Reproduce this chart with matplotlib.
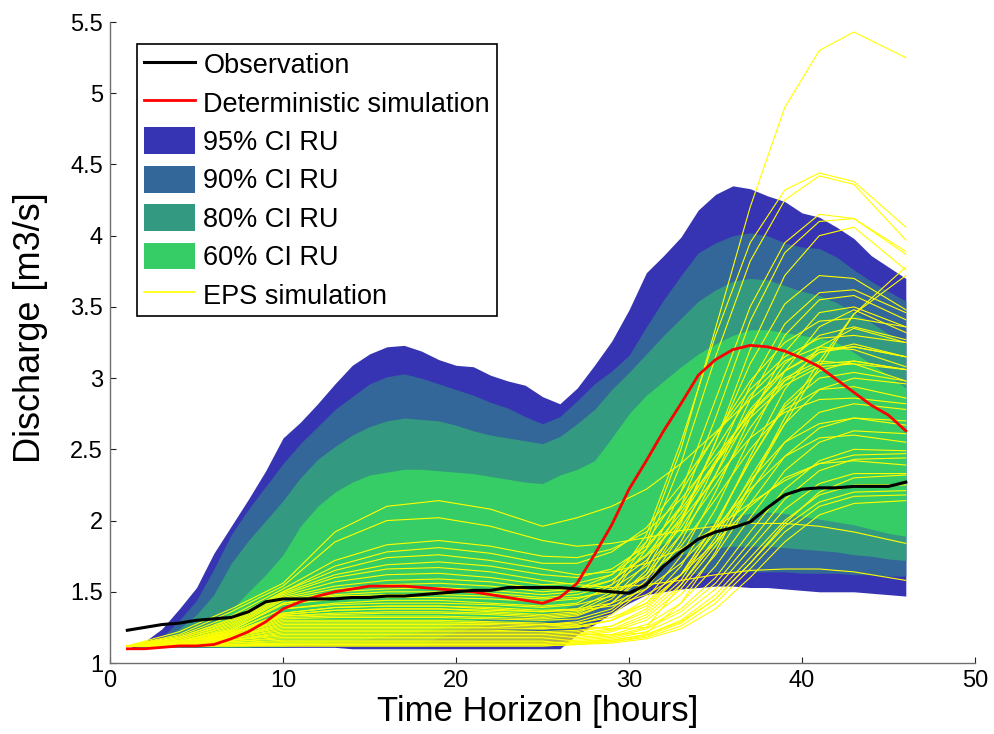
import matplotlib.pyplot as plt
import numpy as np
from matplotlib.lines import Line2D
from matplotlib.patches import Patch

plt.rcParams["font.family"] = ["Liberation Sans", "DejaVu Sans"]

# hourly lead times
hours = np.arange(1, 47)

observation = [1.23, 1.25, 1.27, 1.28, 1.30, 1.31, 1.32, 1.36, 1.43, 1.45,
               1.45, 1.45, 1.45, 1.46, 1.46, 1.47, 1.47, 1.48, 1.49, 1.50,
               1.51, 1.51, 1.53, 1.53, 1.53, 1.53, 1.52, 1.51, 1.50, 1.49,
               1.55, 1.68, 1.78, 1.87, 1.92, 1.95, 1.99, 2.09, 2.18, 2.22,
               2.23, 2.23, 2.24, 2.24, 2.24, 2.27]

deterministic = [1.10, 1.10, 1.11, 1.12, 1.12, 1.13, 1.17, 1.22, 1.29, 1.38,
                 1.43, 1.47, 1.50, 1.52, 1.54, 1.54, 1.54, 1.53, 1.52, 1.51,
                 1.50, 1.48, 1.46, 1.44, 1.42, 1.46, 1.56, 1.76, 1.97, 2.22,
                 2.42, 2.63, 2.82, 3.02, 3.13, 3.20, 3.23, 3.22, 3.19, 3.14,
                 3.08, 2.99, 2.90, 2.81, 2.74, 2.63]

# confidence intervals of the residual uncertainty
ci95_hi = [1.10, 1.15, 1.24, 1.38, 1.53, 1.77, 1.96, 2.15, 2.35, 2.58,
           2.69, 2.82, 2.96, 3.09, 3.17, 3.22, 3.23, 3.19, 3.13, 3.09,
           3.08, 3.02, 2.98, 2.95, 2.87, 2.82, 2.93, 3.09, 3.26, 3.48,
           3.74, 3.86, 3.99, 4.18, 4.29, 4.35, 4.33, 4.28, 4.24, 4.16,
           4.13, 4.06, 3.98, 3.86, 3.78, 3.70]
ci95_lo = [1.10, 1.11, 1.11, 1.11, 1.11, 1.11, 1.11, 1.11, 1.11, 1.11,
           1.11, 1.11, 1.11, 1.10, 1.10, 1.10, 1.10, 1.10, 1.10, 1.10,
           1.10, 1.10, 1.10, 1.10, 1.10, 1.10, 1.20, 1.27, 1.35, 1.42,
           1.48, 1.50, 1.52, 1.53, 1.54, 1.54, 1.53, 1.53, 1.52, 1.51,
           1.50, 1.50, 1.50, 1.49, 1.48, 1.47]

ci90_hi = [1.10, 1.13, 1.18, 1.30, 1.44, 1.66, 1.90, 2.08, 2.24, 2.40,
           2.54, 2.66, 2.78, 2.87, 2.96, 3.01, 3.03, 3.00, 2.96, 2.92,
           2.88, 2.83, 2.79, 2.73, 2.68, 2.73, 2.84, 2.96, 3.05, 3.16,
           3.36, 3.55, 3.72, 3.88, 3.95, 4.00, 4.02, 4.00, 3.95, 3.92,
           3.91, 3.85, 3.76, 3.68, 3.61, 3.54]
ci90_lo = [1.10, 1.11, 1.11, 1.11, 1.11, 1.11, 1.11, 1.11, 1.11, 1.11,
           1.12, 1.12, 1.12, 1.12, 1.12, 1.12, 1.12, 1.12, 1.14, 1.14,
           1.14, 1.14, 1.14, 1.14, 1.16, 1.18, 1.23, 1.30, 1.38, 1.46,
           1.53, 1.58, 1.61, 1.63, 1.64, 1.64, 1.64, 1.64, 1.64, 1.63,
           1.63, 1.63, 1.62, 1.62, 1.61, 1.61]

ci80_hi = [1.10, 1.12, 1.17, 1.24, 1.34, 1.48, 1.70, 1.86, 2.00, 2.14,
           2.30, 2.43, 2.52, 2.60, 2.66, 2.70, 2.72, 2.71, 2.70, 2.67,
           2.63, 2.60, 2.58, 2.56, 2.54, 2.59, 2.68, 2.78, 2.92, 3.04,
           3.17, 3.30, 3.42, 3.54, 3.62, 3.68, 3.70, 3.69, 3.65, 3.61,
           3.58, 3.53, 3.46, 3.39, 3.31, 3.24]
ci80_lo = [1.10, 1.11, 1.11, 1.11, 1.11, 1.11, 1.11, 1.11, 1.13, 1.13,
           1.13, 1.13, 1.13, 1.13, 1.13, 1.13, 1.13, 1.13, 1.18, 1.22,
           1.25, 1.27, 1.28, 1.28, 1.29, 1.30, 1.34, 1.40, 1.47, 1.55,
           1.62, 1.70, 1.76, 1.79, 1.81, 1.82, 1.82, 1.82, 1.81, 1.80,
           1.79, 1.78, 1.76, 1.75, 1.73, 1.72]

ci60_hi = [1.10, 1.11, 1.13, 1.16, 1.20, 1.28, 1.37, 1.50, 1.62, 1.76,
           1.96, 2.10, 2.20, 2.27, 2.32, 2.34, 2.36, 2.36, 2.35, 2.34,
           2.33, 2.31, 2.29, 2.27, 2.26, 2.32, 2.36, 2.42, 2.58, 2.75,
           2.88, 2.98, 3.08, 3.17, 3.24, 3.30, 3.34, 3.34, 3.32, 3.30,
           3.28, 3.25, 3.18, 3.10, 3.02, 2.93]
ci60_lo = [1.10, 1.11, 1.11, 1.12, 1.12, 1.12, 1.12, 1.12, 1.12, 1.12,
           1.13, 1.14, 1.15, 1.16, 1.17, 1.19, 1.20, 1.22, 1.24, 1.27,
           1.30, 1.32, 1.33, 1.34, 1.35, 1.37, 1.42, 1.50, 1.58, 1.67,
           1.76, 1.84, 1.90, 1.95, 1.99, 2.03, 2.05, 2.06, 2.05, 2.03,
           2.01, 1.99, 1.97, 1.94, 1.91, 1.89]

# EPS members, sampled at these lead times
eps_hours = [1, 4, 7, 10, 13, 16, 19, 22, 25, 27, 29, 31, 33, 35, 37, 39, 41, 43, 46]
eps_members = [
    [1.12, 1.22, 1.38, 1.56, 1.92, 2.10, 2.14, 2.08, 1.96, 2.02, 2.10, 2.22, 2.40, 2.62, 2.85, 3.05, 3.18, 3.22, 3.15],
    [1.12, 1.20, 1.36, 1.54, 1.85, 2.00, 2.02, 1.96, 1.86, 1.82, 1.84, 1.88, 1.93, 1.96, 1.98, 1.98, 1.96, 1.92, 1.84],
    [1.12, 1.19, 1.33, 1.52, 1.72, 1.83, 1.86, 1.82, 1.75, 1.74, 1.80, 1.92, 2.15, 2.45, 2.75, 2.98, 3.10, 3.12, 3.06],
    [1.12, 1.18, 1.31, 1.50, 1.68, 1.78, 1.81, 1.77, 1.70, 1.70, 1.78, 1.95, 2.25, 2.60, 2.92, 3.15, 3.28, 3.30, 3.25],
    [1.12, 1.18, 1.30, 1.50, 1.65, 1.74, 1.76, 1.72, 1.66, 1.62, 1.64, 1.70, 1.80, 1.95, 2.12, 2.28, 2.40, 2.46, 2.47],
    [1.12, 1.17, 1.29, 1.49, 1.62, 1.69, 1.71, 1.68, 1.62, 1.60, 1.66, 1.82, 2.08, 2.40, 2.72, 2.95, 3.08, 3.10, 3.06],
    [1.12, 1.17, 1.28, 1.48, 1.60, 1.66, 1.67, 1.64, 1.58, 1.55, 1.53, 1.55, 1.58, 1.62, 1.65, 1.66, 1.66, 1.64, 1.58],
    [1.12, 1.16, 1.27, 1.47, 1.57, 1.62, 1.63, 1.60, 1.55, 1.56, 1.62, 1.80, 2.10, 2.50, 2.88, 3.12, 3.22, 3.20, 3.08],
    [1.12, 1.16, 1.26, 1.46, 1.54, 1.58, 1.59, 1.57, 1.52, 1.52, 1.58, 1.75, 2.00, 2.30, 2.58, 2.76, 2.85, 2.86, 2.82],
    [1.12, 1.15, 1.25, 1.45, 1.52, 1.55, 1.56, 1.54, 1.50, 1.52, 1.62, 1.85, 2.20, 2.60, 2.98, 3.25, 3.40, 3.42, 3.36],
    [1.12, 1.15, 1.24, 1.44, 1.50, 1.52, 1.53, 1.51, 1.48, 1.50, 1.58, 1.76, 2.05, 2.42, 2.76, 3.00, 3.12, 3.10, 2.98],
    [1.12, 1.15, 1.23, 1.42, 1.48, 1.50, 1.50, 1.49, 1.46, 1.48, 1.55, 1.72, 2.02, 2.40, 2.78, 3.05, 3.20, 3.22, 3.15],
    [1.12, 1.14, 1.21, 1.35, 1.39, 1.40, 1.40, 1.38, 1.36, 1.38, 1.50, 1.85, 2.50, 3.35, 4.20, 4.90, 5.30, 5.43, 5.25],
    [1.12, 1.14, 1.22, 1.38, 1.42, 1.44, 1.44, 1.42, 1.40, 1.42, 1.55, 1.90, 2.55, 3.30, 3.95, 4.32, 4.44, 4.38, 4.06],
    [1.12, 1.14, 1.21, 1.34, 1.37, 1.38, 1.38, 1.36, 1.34, 1.36, 1.48, 1.80, 2.40, 3.15, 3.82, 4.25, 4.42, 4.36, 3.97],
    [1.12, 1.14, 1.20, 1.33, 1.35, 1.36, 1.36, 1.35, 1.33, 1.35, 1.45, 1.70, 2.20, 2.85, 3.50, 3.95, 4.15, 4.12, 3.89],
    [1.12, 1.13, 1.20, 1.32, 1.33, 1.33, 1.33, 1.32, 1.31, 1.33, 1.42, 1.65, 2.10, 2.72, 3.40, 3.88, 4.10, 4.12, 3.87],
    [1.12, 1.13, 1.19, 1.30, 1.30, 1.30, 1.30, 1.29, 1.28, 1.26, 1.24, 1.25, 1.55, 1.85, 2.25, 2.68, 3.08, 3.45, 3.78],
    [1.12, 1.13, 1.19, 1.31, 1.32, 1.32, 1.32, 1.31, 1.30, 1.31, 1.38, 1.58, 1.98, 2.55, 3.20, 3.72, 4.00, 4.06, 3.76],
    [1.12, 1.13, 1.16, 1.22, 1.22, 1.22, 1.22, 1.22, 1.22, 1.20, 1.20, 1.21, 1.42, 1.78, 2.25, 2.72, 3.12, 3.45, 3.72],
    [1.12, 1.14, 1.20, 1.33, 1.34, 1.35, 1.35, 1.34, 1.32, 1.34, 1.42, 1.62, 2.00, 2.55, 3.10, 3.52, 3.72, 3.70, 3.48],
    [1.12, 1.13, 1.19, 1.29, 1.29, 1.29, 1.29, 1.28, 1.27, 1.29, 1.36, 1.55, 1.90, 2.40, 2.95, 3.38, 3.60, 3.62, 3.46],
    [1.12, 1.13, 1.18, 1.27, 1.27, 1.27, 1.27, 1.27, 1.26, 1.27, 1.34, 1.52, 1.85, 2.32, 2.85, 3.30, 3.55, 3.58, 3.41],
    [1.12, 1.13, 1.18, 1.25, 1.25, 1.25, 1.25, 1.25, 1.24, 1.25, 1.30, 1.45, 1.75, 2.20, 2.72, 3.18, 3.46, 3.50, 3.36],
    [1.12, 1.13, 1.17, 1.24, 1.24, 1.24, 1.24, 1.24, 1.24, 1.25, 1.30, 1.42, 1.68, 2.08, 2.58, 3.05, 3.36, 3.48, 3.32],
    [1.12, 1.15, 1.23, 1.41, 1.45, 1.46, 1.46, 1.45, 1.43, 1.45, 1.52, 1.68, 1.95, 2.32, 2.75, 3.10, 3.30, 3.36, 3.27],
    [1.12, 1.13, 1.17, 1.23, 1.23, 1.23, 1.23, 1.23, 1.22, 1.23, 1.26, 1.36, 1.58, 1.95, 2.45, 2.92, 3.22, 3.35, 3.25],
    [1.12, 1.14, 1.22, 1.38, 1.41, 1.42, 1.42, 1.41, 1.39, 1.41, 1.47, 1.62, 1.90, 2.25, 2.65, 2.98, 3.18, 3.24, 3.15],
    [1.12, 1.13, 1.16, 1.21, 1.21, 1.21, 1.21, 1.21, 1.21, 1.22, 1.26, 1.38, 1.62, 1.98, 2.42, 2.82, 3.05, 3.12, 3.06],
    [1.12, 1.13, 1.16, 1.20, 1.20, 1.20, 1.20, 1.20, 1.20, 1.21, 1.24, 1.34, 1.55, 1.88, 2.30, 2.68, 2.92, 3.00, 2.96],
    [1.12, 1.15, 1.23, 1.42, 1.47, 1.48, 1.48, 1.47, 1.45, 1.46, 1.50, 1.60, 1.82, 2.15, 2.50, 2.78, 2.92, 2.94, 2.86],
    [1.12, 1.13, 1.16, 1.19, 1.19, 1.19, 1.19, 1.19, 1.19, 1.20, 1.23, 1.32, 1.52, 1.82, 2.20, 2.55, 2.76, 2.82, 2.78],
    [1.12, 1.12, 1.15, 1.18, 1.18, 1.18, 1.18, 1.18, 1.18, 1.19, 1.22, 1.30, 1.48, 1.76, 2.12, 2.45, 2.65, 2.72, 2.70],
    [1.12, 1.12, 1.15, 1.17, 1.17, 1.17, 1.17, 1.17, 1.17, 1.18, 1.20, 1.27, 1.42, 1.68, 2.02, 2.35, 2.55, 2.63, 2.61],
    [1.12, 1.14, 1.21, 1.35, 1.39, 1.40, 1.40, 1.39, 1.37, 1.38, 1.42, 1.52, 1.70, 1.95, 2.22, 2.45, 2.58, 2.60, 2.55],
    [1.12, 1.12, 1.14, 1.16, 1.16, 1.16, 1.16, 1.16, 1.16, 1.17, 1.19, 1.25, 1.38, 1.60, 1.92, 2.22, 2.42, 2.50, 2.49],
    [1.12, 1.12, 1.14, 1.15, 1.15, 1.15, 1.15, 1.15, 1.15, 1.16, 1.18, 1.24, 1.36, 1.56, 1.85, 2.15, 2.35, 2.43, 2.44],
    [1.12, 1.14, 1.21, 1.34, 1.37, 1.38, 1.38, 1.37, 1.36, 1.37, 1.40, 1.48, 1.62, 1.85, 2.10, 2.30, 2.40, 2.42, 2.39],
    [1.12, 1.12, 1.13, 1.14, 1.14, 1.14, 1.14, 1.14, 1.14, 1.15, 1.17, 1.22, 1.33, 1.52, 1.80, 2.08, 2.26, 2.33, 2.33],
    [1.12, 1.12, 1.13, 1.14, 1.14, 1.14, 1.14, 1.14, 1.14, 1.15, 1.16, 1.20, 1.30, 1.48, 1.74, 2.00, 2.18, 2.25, 2.25],
    [1.12, 1.12, 1.13, 1.13, 1.13, 1.13, 1.13, 1.13, 1.13, 1.14, 1.16, 1.20, 1.29, 1.45, 1.70, 1.96, 2.13, 2.20, 2.21],
    [1.12, 1.12, 1.12, 1.13, 1.13, 1.13, 1.13, 1.13, 1.13, 1.14, 1.15, 1.18, 1.26, 1.42, 1.66, 1.92, 2.10, 2.17, 2.18],
    [1.12, 1.12, 1.12, 1.12, 1.12, 1.12, 1.12, 1.12, 1.12, 1.13, 1.14, 1.17, 1.24, 1.38, 1.60, 1.85, 2.04, 2.12, 2.14],
    [1.12, 1.12, 1.12, 1.12, 1.12, 1.12, 1.12, 1.12, 1.12, 1.13, 1.15, 1.19, 1.28, 1.45, 1.70, 1.98, 2.20, 2.30, 2.32],
    [1.12, 1.13, 1.18, 1.28, 1.28, 1.28, 1.28, 1.28, 1.27, 1.28, 1.32, 1.42, 1.62, 1.92, 2.28, 2.55, 2.68, 2.72, 2.67],
    [1.12, 1.13, 1.18, 1.26, 1.26, 1.26, 1.26, 1.26, 1.25, 1.26, 1.30, 1.40, 1.62, 1.98, 2.42, 2.80, 3.00, 3.04, 2.98],
]

c95 = "#3634B3"
c90 = "#336699"
c80 = "#339980"
c60 = "#36CC66"
c_eps = "#FFFF00"

fig = plt.figure(figsize=(9.94, 7.34), dpi=100)
ax = fig.add_axes([0.1107, 0.0967, 0.8702, 0.8733])

ax.fill_between(hours, ci95_lo, ci95_hi, color=c95, lw=0, zorder=1)
ax.fill_between(hours, ci90_lo, ci90_hi, color=c90, lw=0, zorder=2)
ax.fill_between(hours, ci80_lo, ci80_hi, color=c80, lw=0, zorder=3)
ax.fill_between(hours, ci60_lo, ci60_hi, color=c60, lw=0, zorder=4)

for member in eps_members:
    ax.plot(eps_hours, member, color=c_eps, lw=0.8, zorder=5)

ax.plot(hours, deterministic, color="red", lw=2.0, zorder=6)
ax.plot(hours, observation, color="black", lw=2.2, zorder=7)

ax.set_xlim(0, 50)
ax.set_ylim(1, 5.5)
ax.set_xticks(np.arange(0, 51, 10))
ax.set_yticks(np.arange(1, 5.51, 0.5))
ax.set_yticklabels(["1", "1.5", "2", "2.5", "3", "3.5", "4", "4.5", "5", "5.5"])

for side in ["top", "right"]:
    ax.spines[side].set_visible(False)
for side in ["left", "bottom"]:
    ax.spines[side].set_color("#6e6e6e")
    ax.spines[side].set_linewidth(1.0)
ax.tick_params(direction="in", length=4.5, width=0.8, color="#222222",
               labelsize=17, pad=5)

ax.set_xlabel("Time Horizon [hours]", fontsize=25)
ax.set_ylabel("Discharge [m3/s]", fontsize=26)
ax.xaxis.set_label_coords(0.494, -0.05)
ax.yaxis.set_label_coords(-0.072, 0.524)

handles = [
    Line2D([], [], color="black", lw=2.2),
    Line2D([], [], color="red", lw=2.0),
    Patch(facecolor=c95, edgecolor="none"),
    Patch(facecolor=c90, edgecolor="none"),
    Patch(facecolor=c80, edgecolor="none"),
    Patch(facecolor=c60, edgecolor="none"),
    Line2D([], [], color=c_eps, lw=1.2),
]
labels = ["Observation", "Deterministic simulation", "95% CI RU", "90% CI RU",
          "80% CI RU", "60% CI RU", "EPS simulation"]
leg = ax.legend(handles, labels, loc="upper left",
                bbox_to_anchor=(137 / 994, 1 - 44 / 734),
                bbox_transform=fig.transFigure, fontsize=19.5, frameon=True,
                fancybox=False, edgecolor="black", framealpha=1,
                handlelength=1.9, handleheight=1.15, labelspacing=0.36,
                handletextpad=0.3, borderpad=0.25, borderaxespad=0)
leg.get_frame().set_linewidth(1.2)
leg.set_zorder(10)

fig.savefig("out.png", dpi=100)
